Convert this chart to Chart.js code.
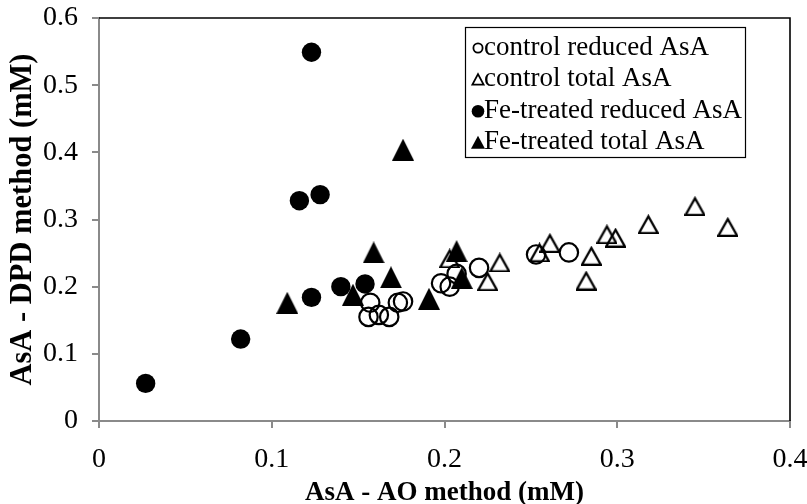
<!DOCTYPE html>
<html>
<head>
<meta charset="utf-8">
<script src="https://cdn.jsdelivr.net/npm/chart.js@4/dist/chart.umd.min.js"></script>
<style>
  html, body { margin: 0; padding: 0; background: #fff; }
  #wrap { width: 807px; height: 504px; }
</style>
</head>
<body>
<div id="wrap"><canvas id="c" width="807" height="504"></canvas></div>
<script>
// ---- data ----
const seriesNames = ['control reduced AsA', 'control total AsA', 'Fe-treated reduced AsA', 'Fe-treated total AsA'];

const controlReducedX = [0.156, 0.162, 0.168, 0.157, 0.173, 0.176, 0.198, 0.203, 0.207, 0.220, 0.253, 0.272];
const controlReducedY = [0.155, 0.158, 0.155, 0.176, 0.176, 0.178, 0.205, 0.200, 0.219, 0.228, 0.248, 0.251];

const controlTotalX = [0.203, 0.232, 0.225, 0.255, 0.261, 0.285, 0.282, 0.294, 0.299, 0.318, 0.345, 0.364];
const controlTotalY = [0.242, 0.236, 0.208, 0.251, 0.265, 0.246, 0.209, 0.278, 0.273, 0.293, 0.320, 0.289];

const feReducedX = [0.027, 0.082, 0.123, 0.140, 0.154, 0.116, 0.128, 0.123];
const feReducedY = [0.056, 0.122, 0.184, 0.200, 0.204, 0.328, 0.337, 0.549];

const feTotalX = [0.109, 0.147, 0.159, 0.169, 0.176, 0.191, 0.207, 0.210];
const feTotalY = [0.176, 0.188, 0.251, 0.214, 0.404, 0.182, 0.253, 0.213];

const xTitle = 'AsA - AO method (mM)';
const yTitle = 'AsA - DPD method (mM)';

// ---- helpers ----
const pts = (xs, ys) => xs.map((x, i) => ({ x: x, y: ys[i] }));

function triCanvas(w, h, filled, lw) {
  const c = document.createElement('canvas');
  c.width = w; c.height = h;
  const g = c.getContext('2d');
  const i = filled ? 0 : lw / 2;
  g.beginPath();
  g.moveTo(w / 2, filled ? 0 : i * 1.9);
  g.lineTo(w - i, h - i);
  g.lineTo(i, h - i);
  g.closePath();
  if (filled) { g.fillStyle = '#000'; g.fill(); }
  else { g.lineWidth = lw; g.strokeStyle = '#000'; g.lineJoin = 'miter'; g.stroke(); }
  return c;
}

const triFilled = triCanvas(22, 22, true, 0);
const triOpen = triCanvas(21, 20, false, 2.2);

const GRAY = '#8a8a8a';
const FONT = '"Liberation Serif", "Times New Roman", serif';

function legendMarker(ctx, kind, x, y) {
  ctx.save();
  ctx.fillStyle = '#000';
  ctx.strokeStyle = '#000';
  if (kind === 'circleOpen') {
    ctx.lineWidth = 1.8;
    ctx.beginPath(); ctx.arc(x, y, 4.6, 0, Math.PI * 2); ctx.stroke();
  } else if (kind === 'circleFilled') {
    ctx.beginPath(); ctx.arc(x, y, 6.3, 0, Math.PI * 2); ctx.fill();
  } else if (kind === 'triOpen') {
    ctx.lineWidth = 1.8;
    ctx.beginPath(); ctx.moveTo(x, y - 5.5); ctx.lineTo(x + 5.6, y + 5); ctx.lineTo(x - 5.6, y + 5); ctx.closePath(); ctx.stroke();
  } else {
    ctx.beginPath(); ctx.moveTo(x, y - 7); ctx.lineTo(x + 7, y + 6); ctx.lineTo(x - 7, y + 6); ctx.closePath(); ctx.fill();
  }
  ctx.restore();
}

const boxLegend = {
  id: 'boxLegend',
  afterDraw(chart) {
    const ctx = chart.ctx;
    ctx.save();
    ctx.fillStyle = '#fff';
    ctx.fillRect(465, 27, 280, 130);
    ctx.strokeStyle = '#000';
    ctx.lineWidth = 1.2;
    ctx.strokeRect(465.5, 27.5, 280, 130);
    ctx.font = '27px ' + FONT;
    ctx.fillStyle = '#000';
    ctx.textBaseline = 'alphabetic';
    ctx.textAlign = 'left';
    chart.data.datasets.forEach((ds, i) => {
      const base = 54.5 + i * 31.6;
      legendMarker(ctx, ds.legendKind, 478, base - 6.5);
      ctx.fillText(ds.label, 484, base);
    });
    ctx.restore();
  }
};

const frame = {
  id: 'frame',
  beforeDatasetsDraw(chart) {
    const a = chart.chartArea, ctx = chart.ctx;
    ctx.save();
    ctx.strokeStyle = '#000';
    ctx.lineWidth = 1.6;
    ctx.beginPath();
    ctx.moveTo(a.left, a.top);
    ctx.lineTo(a.right, a.top);
    ctx.lineTo(a.right, a.bottom);
    ctx.stroke();
    ctx.restore();
  }
};

new Chart(document.getElementById('c'), {
  type: 'scatter',
  data: {
    datasets: [
      { label: seriesNames[0], data: pts(controlReducedX, controlReducedY), legendKind: 'circleOpen',
        pointStyle: 'circle', pointRadius: 9.2, borderWidth: 2.2, borderColor: '#000', backgroundColor: 'rgba(0,0,0,0)', order: 4 },
      { label: seriesNames[1], data: pts(controlTotalX, controlTotalY), legendKind: 'triOpen',
        pointStyle: triOpen, pointRadius: 10, borderColor: '#000', backgroundColor: '#000', order: 3 },
      { label: seriesNames[2], data: pts(feReducedX, feReducedY), legendKind: 'circleFilled',
        pointStyle: 'circle', pointRadius: 9.7, borderWidth: 0, borderColor: '#000', backgroundColor: '#000', order: 2 },
      { label: seriesNames[3], data: pts(feTotalX, feTotalY), legendKind: 'triFilled',
        pointStyle: triFilled, pointRadius: 11, borderColor: '#000', backgroundColor: '#000', order: 1 }
    ]
  },
  options: {
    responsive: false,
    animation: false,
    events: [],
    layout: { padding: { top: 18, right: 17, bottom: 0, left: 0 } },
    plugins: { legend: { display: false }, tooltip: { enabled: false } },
    scales: {
      x: {
        type: 'linear', min: 0, max: 0.4,
        afterFit: s => { s.height = 83; s.paddingLeft = 0; s.paddingRight = 0; },
        ticks: { stepSize: 0.1, color: '#000', padding: 15, font: { family: FONT, size: 28 } },
        grid: { display: true, drawOnChartArea: false, drawTicks: true, tickLength: 7, color: GRAY, lineWidth: 2 },
        border: { display: true, color: GRAY, width: 2 },
        title: { display: true, text: xTitle, color: '#000', padding: 0,
                 font: { family: FONT, size: 27, weight: 'bold', lineHeight: 0.8 } }
      },
      y: {
        type: 'linear', min: 0, max: 0.6,
        afterFit: s => { s.width = 99; s.paddingTop = 0; s.paddingBottom = 0; },
        ticks: { stepSize: 0.1, color: '#000', padding: 14, font: { family: FONT, size: 28 } },
        grid: { display: true, drawOnChartArea: false, drawTicks: true, tickLength: 7, color: GRAY, lineWidth: 2 },
        border: { display: true, color: GRAY, width: 2 },
        title: { display: true, text: yTitle, color: '#000', padding: { top: 5, bottom: 0 },
                 font: { family: FONT, size: 30.5, weight: 'bold', lineHeight: 1.2 } }
      }
    }
  },
  plugins: [frame, boxLegend]
});
</script>
</body>
</html>
